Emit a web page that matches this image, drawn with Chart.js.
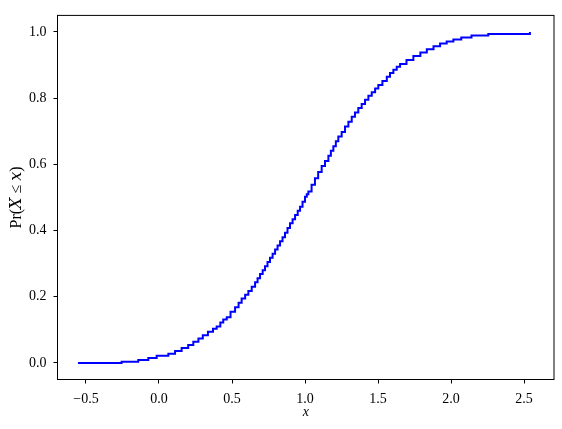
<!DOCTYPE html>
<html>
<head>
<meta charset="utf-8">
<script src="https://cdn.jsdelivr.net/npm/chart.js@4.4.1/dist/chart.umd.min.js"></script>
<style>
  html, body { margin: 0; padding: 0; background: #fff; }
  #chart { display: block; }
</style>
</head>
<body>
<canvas id="chart" width="562" height="429"></canvas>
<script>
const xValues = [-0.555, -0.256, -0.142, -0.073, -0.016, 0.064, 0.11, 0.155, 0.2, 0.235,
  0.27, 0.30, 0.335, 0.37, 0.395, 0.42, 0.44, 0.464, 0.49, 0.521,
  0.545, 0.566, 0.59, 0.612, 0.635, 0.658, 0.675, 0.692, 0.71, 0.726,
  0.743, 0.76, 0.778, 0.795, 0.812, 0.829, 0.846, 0.863, 0.88, 0.897,
  0.915, 0.932, 0.95, 0.966, 0.983, 1.0, 1.012, 1.023, 1.045, 1.068,
  1.09, 1.114, 1.137, 1.16, 1.177, 1.194, 1.211, 1.228, 1.251, 1.274,
  1.297, 1.32, 1.342, 1.365, 1.388, 1.411, 1.434, 1.457, 1.48, 1.502,
  1.53, 1.56, 1.582, 1.605, 1.628, 1.651, 1.695, 1.742, 1.79, 1.834,
  1.88, 1.925, 1.97, 2.016, 2.07, 2.14, 2.255, 2.54];
const yValues = [0.0, 0.004, 0.009, 0.015, 0.022, 0.028, 0.036, 0.045, 0.054, 0.064,
  0.074, 0.084, 0.094, 0.103, 0.11, 0.122, 0.131, 0.138, 0.155, 0.168,
  0.182, 0.195, 0.206, 0.217, 0.23, 0.244, 0.256, 0.269, 0.28, 0.292,
  0.305, 0.318, 0.33, 0.343, 0.355, 0.368, 0.38, 0.393, 0.408, 0.422,
  0.434, 0.447, 0.46, 0.472, 0.487, 0.502, 0.51, 0.518, 0.538, 0.558,
  0.577, 0.595, 0.61, 0.626, 0.641, 0.655, 0.67, 0.684, 0.698, 0.714,
  0.729, 0.744, 0.757, 0.77, 0.782, 0.795, 0.807, 0.818, 0.829, 0.84,
  0.852, 0.865, 0.876, 0.886, 0.895, 0.903, 0.915, 0.927, 0.938, 0.948,
  0.957, 0.965, 0.971, 0.977, 0.983, 0.989, 0.994, 1.0];
const xTicks = [-0.5, 0.0, 0.5, 1.0, 1.5, 2.0, 2.5];
const yTicks = [0.0, 0.2, 0.4, 0.6, 0.8, 1.0];

const serif = "'Liberation Serif', 'DejaVu Serif', serif";

// tick label like matplotlib (one decimal, real minus sign)
function fmt(v) {
    const s = Math.abs(v).toFixed(1);
    return v < 0 ? '\u2212' + s : s;
}

// frame round the plot area
const framePlugin = {
    id: 'frame',
    afterDraw(chart) {
        const a = chart.chartArea;
        const ctx = chart.ctx;
        ctx.save();
        ctx.strokeStyle = '#000';
        ctx.lineWidth = 1;
        ctx.strokeRect(a.left, a.top, a.right - a.left, a.bottom - a.top);
        ctx.restore();
    }
};

document.addEventListener('DOMContentLoaded', function () {
    const points = xValues.map(function (x, i) {
        return { x: x, y: yValues[i] };
    });

    const ctx = document.getElementById('chart').getContext('2d');
    new Chart(ctx, {
        type: 'line',
        data: {
            datasets: [{
                data: points,
                borderColor: '#0000ff',
                borderWidth: 2,
                stepped: 'before',
                pointRadius: 0,
                fill: false
            }]
        },
        options: {
            responsive: false,
            animation: false,
            layout: { padding: { top: 10, right: 8, left: 0, bottom: 0 } },
            plugins: {
                legend: { display: false },
                tooltip: { enabled: false }
            },
            scales: {
                x: {
                    type: 'linear',
                    min: -0.695,
                    max: 2.705,
                    afterBuildTicks: function (scale) {
                        scale.ticks = xTicks.map(function (v) { return { value: v }; });
                    },
                    afterFit: function (scale) { scale.height = 49.5; },
                    border: { display: false },
                    grid: { drawOnChartArea: false, drawTicks: true, tickLength: 4, tickColor: '#000' },
                    ticks: {
                        color: '#000',
                        padding: 7,
                        maxRotation: 0,
                        font: { family: serif, size: 14 },
                        callback: function (v) { return fmt(v); }
                    },
                    title: {
                        display: true,
                        text: 'x',
                        color: '#000',
                        padding: { top: 0, bottom: 8 },
                        font: { family: serif, size: 14, style: 'italic' }
                    }
                },
                y: {
                    type: 'linear',
                    min: -0.05,
                    max: 1.05,
                    afterBuildTicks: function (scale) {
                        scale.ticks = yTicks.map(function (v) { return { value: v }; });
                    },
                    afterFit: function (scale) { scale.width = 57.5; },
                    border: { display: false },
                    grid: { drawOnChartArea: false, drawTicks: true, tickLength: 4, tickColor: '#000' },
                    ticks: {
                        color: '#000',
                        padding: 7,
                        font: { family: serif, size: 14 },
                        callback: function (v) { return fmt(v); }
                    },
                    title: {
                        display: true,
                        text: 'Pr(\uD835\uDC4B \u2264 \uD835\uDC65)',
                        color: '#000',
                        padding: { top: 7, bottom: 0 },
                        font: { family: serif, size: 16 }
                    }
                }
            }
        },
        plugins: [framePlugin]
    });
});
</script>
</body>
</html>
